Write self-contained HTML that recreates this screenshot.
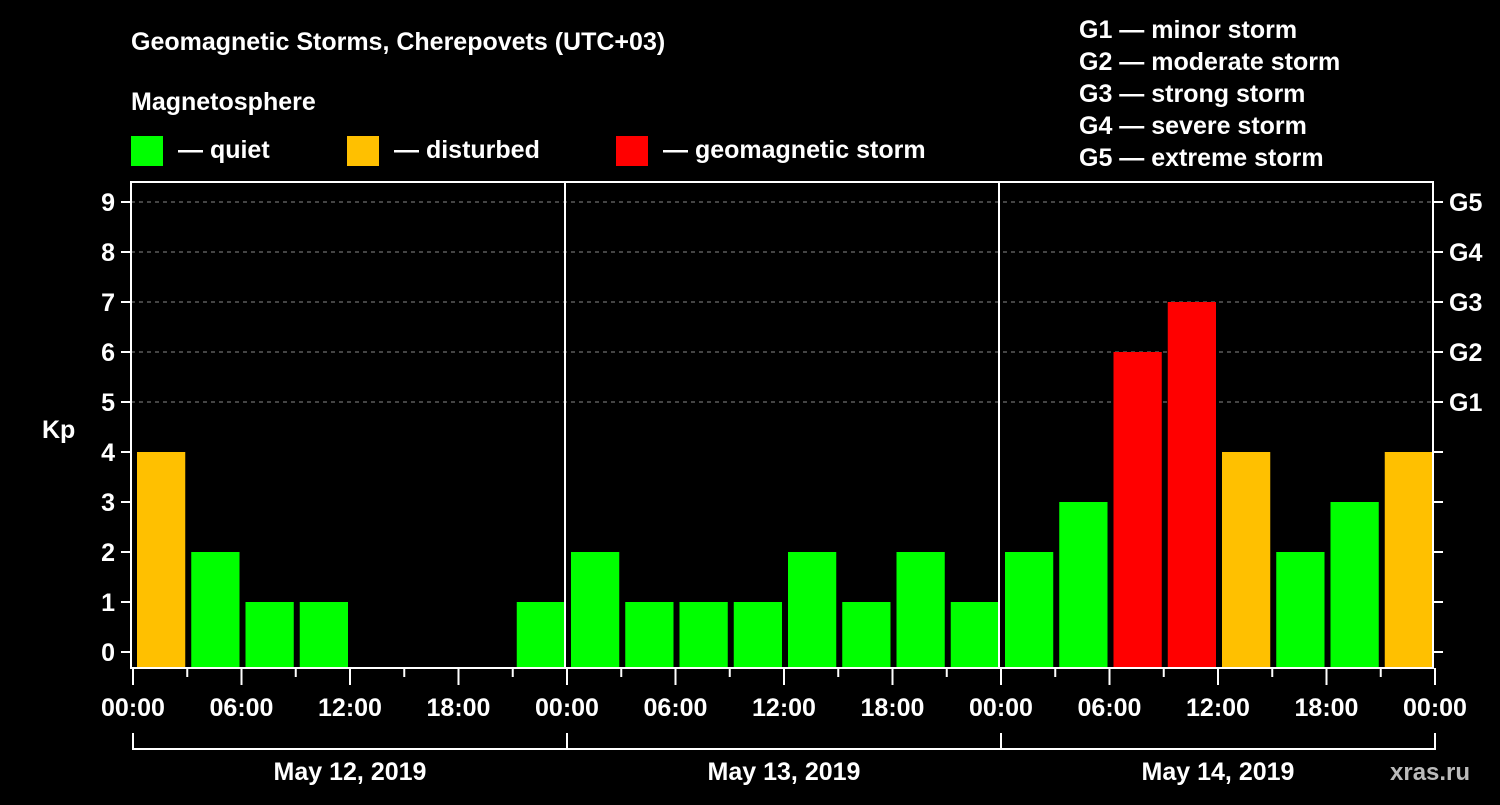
<!DOCTYPE html>
<html><head><meta charset="utf-8"><style>
body{margin:0;background:#000;width:1500px;height:800px;overflow:hidden}
svg text{font-family:"Liberation Sans",Arial,sans-serif;font-weight:bold;fill:#fff}
</style></head><body>
<svg width="1500" height="800" id="c">
<rect width="1500" height="800" fill="#000"/>
<text x="131" y="50" font-size="25">Geomagnetic Storms, Cherepovets (UTC+03)</text>
<text x="131" y="110" font-size="25">Magnetosphere</text>
<g><rect x="131" y="136" width="32" height="30" fill="#00ff00"/><text x="178" y="158" font-size="25">— quiet</text></g>
<g><rect x="347" y="136" width="32" height="30" fill="#ffc000"/><text x="394" y="158" font-size="25">— disturbed</text></g>
<g><rect x="616" y="136" width="32" height="30" fill="#ff0000"/><text x="663" y="158" font-size="25">— geomagnetic storm</text></g>
<g font-size="25">
<text x="1079" y="38">G1 — minor storm</text><text x="1079" y="70">G2 — moderate storm</text><text x="1079" y="102">G3 — strong storm</text><text x="1079" y="134">G4 — severe storm</text><text x="1079" y="166">G5 — extreme storm</text></g>
<text x="42" y="438" font-size="25">Kp</text>
<text x="1390" y="780" font-size="24" fill="#bbb" style="fill:#bbb">xras.ru</text>
<g id="plot"></g>
</svg>
<script>
const kpValues=[4,2,1,1,0,0,0,1, 2,1,1,1,2,1,2,1, 2,3,6,7,4,2,3,4];
const yTicks=[0,1,2,3,4,5,6,7,8,9];
const gLabels=["G1","G2","G3","G4","G5"];
const xTickLabels=["00:00","06:00","12:00","18:00"];
const days=["May 12, 2019","May 13, 2019","May 14, 2019"];
const L=131,R=1433,T=182,B=668;
const slot=(R-L)/24;
const y=v=>652-v*50;
const x=i=>L+i*slot;
const NS="http://www.w3.org/2000/svg";
const g=document.getElementById('plot');
function mk(t,a){const e=document.createElementNS(NS,t);for(const k in a)e.setAttribute(k,a[k]);g.appendChild(e);return e;}
yTicks.forEach(v=>{if(v>=5){const l=mk('line',{x1:L,x2:R,y1:y(v),y2:y(v),stroke:'#888','stroke-dasharray':'4,4'});

}
const t=mk('line',{x1:L-10,x2:L,y1:y(v),y2:y(v),stroke:'#fff','stroke-width':2});


const t2=mk('line',{x1:R,x2:R+10,y1:y(v),y2:y(v),stroke:'#fff','stroke-width':2});


const tx=mk('text',{x:L-16,y:y(v)+9,'font-size':25,'text-anchor':'end'});tx.textContent=v;


if(v>=5){const gt=mk('text',{x:R+16,y:y(v)+9,'font-size':25});gt.textContent=gLabels[v-5];

}
});
kpValues.forEach((v,i)=>{if(v<=0)return;
const c=v>=5?'#ff0000':(v>=4?'#ffc000':'#00ff00');
const r=mk('rect',{x:x(i)+6,y:y(v),width:slot-6,height:B-y(v),fill:c});

});
[1,2].forEach(d=>{const l=mk('line',{x1:x(d*8),x2:x(d*8),y1:T,y2:B,stroke:'#fff','stroke-width':2});

});
const f=mk('rect',{x:L,y:T,width:R-L,height:B-T,fill:'none',stroke:'#fff','stroke-width':2});


for(let i=0;i<=24;i++){const major=i%2==0;
const t=mk('line',{x1:x(i)+2,x2:x(i)+2,y1:B,y2:B+(major?17:9),stroke:'#fff','stroke-width':2});


if(major){const tx=mk('text',{x:x(i)+2,y:716,'font-size':25,'text-anchor':'middle'});tx.textContent=xTickLabels[(i/2)%4];

}}
days.forEach((d,k)=>{const a=x(k*8)+2,b=x(k*8+8)+2;
const p=mk('path',{d:`M${a},733V749H${b}V733`,stroke:'#fff','stroke-width':2,fill:'none'});


const t=mk('text',{x:(a+b)/2,y:780,'font-size':25,'text-anchor':'middle'});t.textContent=d;

});
</script>
</body></html>
